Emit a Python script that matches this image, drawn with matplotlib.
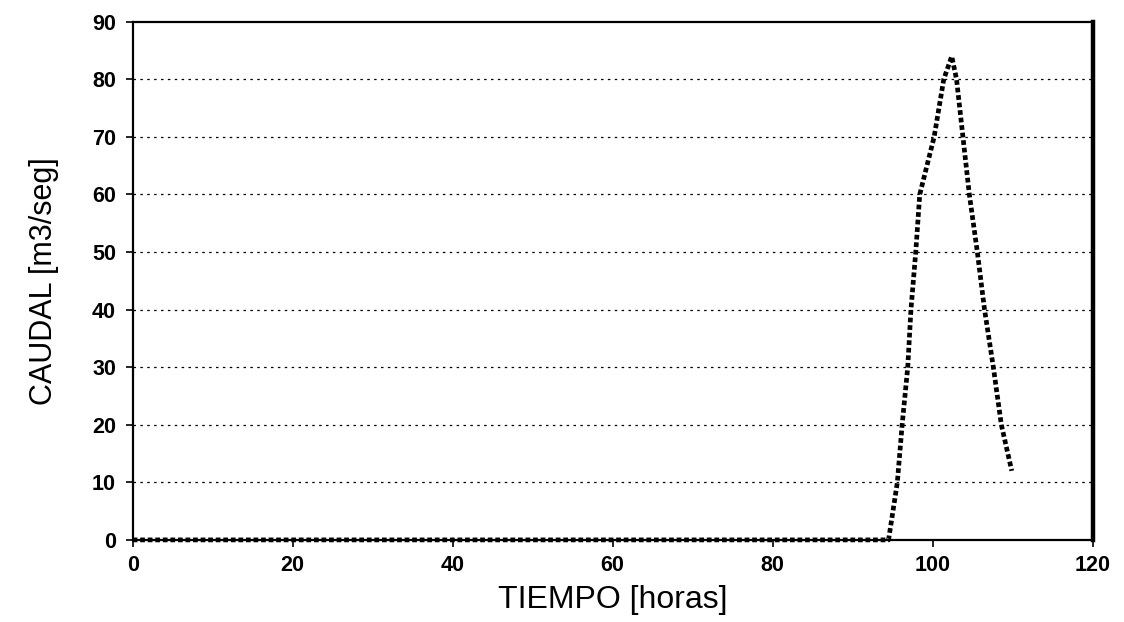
import matplotlib
matplotlib.use("Agg")
import matplotlib.pyplot as plt

# hidrograma de crecida: caudal vs tiempo
tiempo = [0, 12, 60, 94.5, 95.6, 96.2, 96.9, 97.3, 97.9, 98.4, 99.3, 100.2,
          101.4, 102.4, 103.0, 103.8, 104.6, 105.6, 106.5, 107.6, 108.6, 109.9]
caudal = [0, 0, 0, 0, 10, 20, 30, 40, 50, 60, 65, 70,
          80, 84, 80, 70, 60, 50, 40, 30, 20, 12]

xticks = [0, 20, 40, 60, 80, 100, 120]
yticks = [0, 10, 20, 30, 40, 50, 60, 70, 80, 90]

fig = plt.figure(figsize=(11.24, 6.22), dpi=100)
ax = fig.add_axes([0.118, 0.132, 0.854, 0.833])

for y in yticks[1:-1]:
    ax.axhline(y, color='black', lw=0.9, ls=(0, (2, 3.5)), zorder=1)

# la curva se dibuja sin recorte para que el tramo en cero quede sobre el eje
ax.plot(tiempo, caudal, color='black', lw=3.4, ls=(0, (1, 0.6)), zorder=3,
        clip_on=False)

ax.set_xlim(0, 120)
ax.set_ylim(0, 90)
ax.set_xticks(xticks)
ax.set_yticks(yticks)
ax.tick_params(direction='out', length=5, width=1.2, labelsize=15.5)
ax.tick_params(axis='x', pad=6)
ax.tick_params(axis='y', pad=7)
for lab in ax.get_xticklabels() + ax.get_yticklabels():
    lab.set_fontfamily('Liberation Sans')
    lab.set_fontweight('bold')

for side in ['left', 'top', 'bottom']:
    ax.spines[side].set_linewidth(1.6)
ax.spines['right'].set_linewidth(3.2)

ax.set_xlabel('TIEMPO [horas]', fontsize=23, family='Liberation Sans', labelpad=6)
ax.set_ylabel('CAUDAL [m3/seg]', fontsize=22, family='Liberation Sans', labelpad=24)

fig.savefig('out.png', dpi=100)
